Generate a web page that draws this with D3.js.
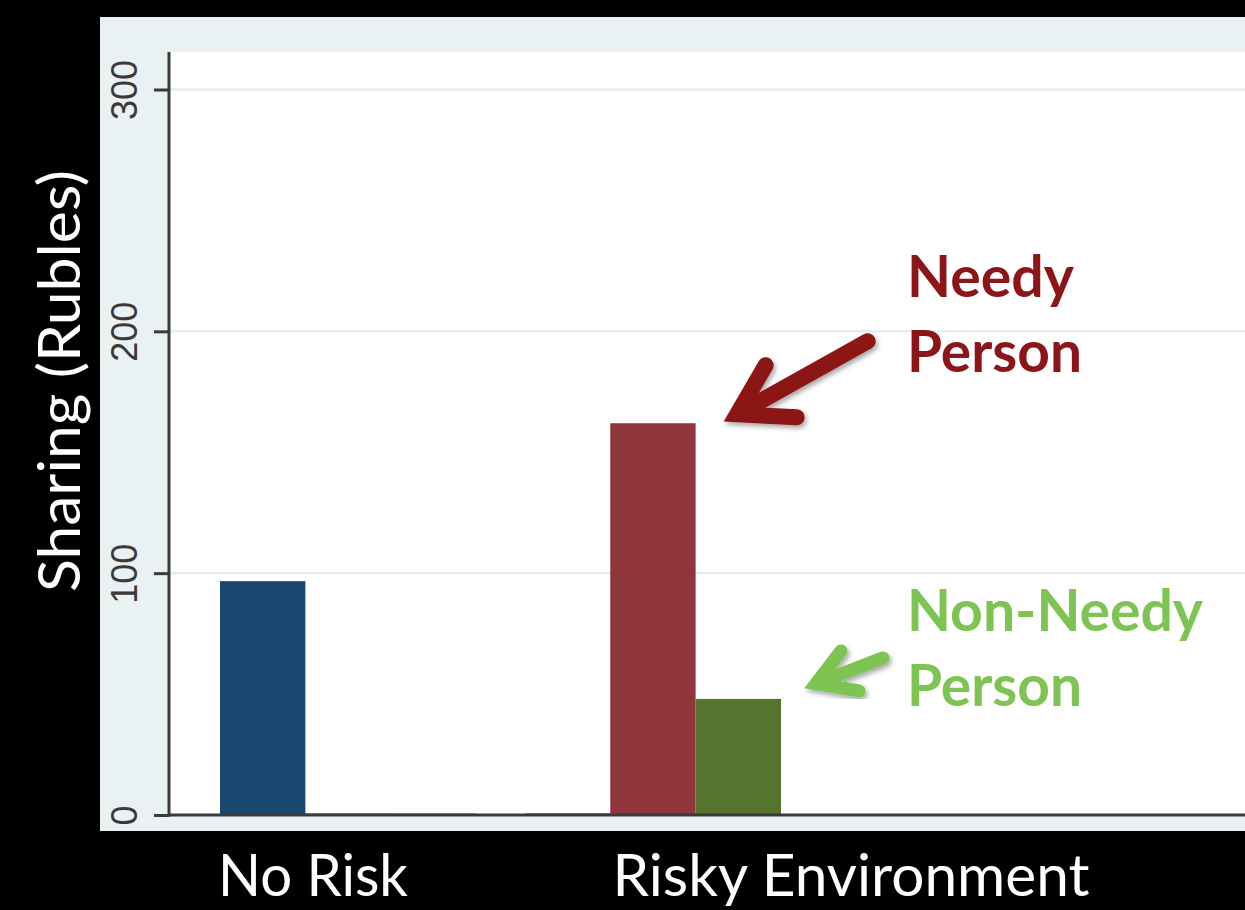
<!DOCTYPE html>
<html>
<head>
<meta charset="utf-8">
<script src="https://cdn.jsdelivr.net/npm/d3@7"></script>
<style>
  html, body { margin: 0; padding: 0; background: #000; }
  svg { display: block; }
</style>
</head>
<body>
<svg id="chart"></svg>
<script>
// Data
const categories = ["No Risk", "Risky Environment"];
const seriesNames = ["Overall", "Needy Person", "Non-Needy Person"];
const overallValues = [96.7, 0];
const needyValues = [0, 162];
const nonNeedyValues = [0, 48];
const yTicks = [0, 100, 200, 300];

const seriesColors = {
    "Overall": "rgb(26,71,111)",
    "Needy Person": "rgb(144,53,59)",
    "Non-Needy Person": "rgb(85,117,47)"
};

const rows = categories.map((c, i) => ({
    category: c,
    values: [
        { key: seriesNames[0], value: overallValues[i] },
        { key: seriesNames[1], value: needyValues[i] },
        { key: seriesNames[2], value: nonNeedyValues[i] }
    ]
}));

const width = 1245;
const height = 910;

const svg = d3.select('#chart')
    .attr('width', width)
    .attr('height', height)
    .style('font-family', 'Lato, "Open Sans", sans-serif');

svg.append('rect')
    .attr('width', width)
    .attr('height', height)
    .attr('fill', '#000');

// Panel and plot region
const panel = { left: 100, top: 17, right: width, bottom: 831 };
const plot = { left: 170, top: 52, right: width, bottom: 815 };

svg.append('rect')
    .attr('x', panel.left)
    .attr('y', panel.top)
    .attr('width', panel.right - panel.left)
    .attr('height', panel.bottom - panel.top)
    .attr('fill', 'rgb(233,241,243)');

svg.append('rect')
    .attr('x', plot.left)
    .attr('y', plot.top)
    .attr('width', plot.right - plot.left)
    .attr('height', plot.bottom - plot.top)
    .attr('fill', '#fff');

// Scales
const y = d3.scaleLinear()
    .domain([0, 300])
    .range([plot.bottom, 89.5]);

const x0 = d3.scaleBand()
    .domain(categories)
    .range([plot.left, plot.left + 661])
    .paddingInner(0.16)
    .paddingOuter(0.164);

const x1 = d3.scaleBand()
    .domain(seriesNames)
    .range([0, x0.bandwidth()])
    .padding(0);

// Gridlines
svg.append('g')
    .selectAll('line')
    .data(yTicks.filter(d => d > 0))
    .join('line')
    .attr('x1', plot.left)
    .attr('x2', plot.right)
    .attr('y1', d => y(d))
    .attr('y2', d => y(d))
    .attr('stroke', 'rgb(228,238,240)')
    .attr('stroke-width', 2.5);

// Bars
const groups = svg.append('g')
    .selectAll('g')
    .data(rows)
    .join('g')
    .attr('transform', d => `translate(${x0(d.category)},0)`);

groups.selectAll('rect')
    .data(d => d.values)
    .join('rect')
    .attr('x', d => x1(d.key))
    .attr('width', x1.bandwidth())
    .attr('y', d => d.value > 0 ? y(d.value) : plot.bottom - 2)
    .attr('height', d => d.value > 0 ? y(0) - y(d.value) : 2)
    .attr('fill', d => seriesColors[d.key])
    .attr('opacity', d => d.value > 0 ? 1 : 0.55);

// Y axis
const yAxis = d3.axisLeft(y)
    .tickValues(yTicks)
    .tickSize(15)
    .tickPadding(0)
    .tickFormat(d3.format('d'));

const axisG = svg.append('g')
    .attr('transform', `translate(${plot.left - 1},0)`)
    .call(yAxis);

axisG.select('.domain').remove();
axisG.selectAll('.tick line')
    .attr('stroke', '#3a3a3a')
    .attr('stroke-width', 3);

// labels sit rotated, reading bottom to top, baseline facing the axis
axisG.selectAll('.tick text')
    .attr('x', 0)
    .attr('y', 0)
    .attr('dy', 0)
    .attr('transform', 'translate(-32,0) rotate(-90)')
    .attr('text-anchor', 'middle')
    .style('font-family', '"Liberation Sans", Arial, sans-serif')
    .style('font-size', '36px')
    .attr('fill', '#3a3a3a');

// axis lines
svg.append('line')
    .attr('x1', plot.left - 1)
    .attr('x2', plot.left - 1)
    .attr('y1', plot.top)
    .attr('y2', plot.bottom + 1.5)
    .attr('stroke', '#3a3a3a')
    .attr('stroke-width', 3);

svg.append('line')
    .attr('x1', plot.left - 1)
    .attr('x2', plot.right)
    .attr('y1', plot.bottom)
    .attr('y2', plot.bottom)
    .attr('stroke', '#3a3a3a')
    .attr('stroke-width', 3);

// Y title
svg.append('text')
    .attr('transform', 'translate(80,381) rotate(-90)')
    .attr('text-anchor', 'middle')
    .attr('fill', '#fff')
    .style('font-size', '58px')
    .attr('textLength', 422)
    .attr('lengthAdjust', 'spacingAndGlyphs')
    .text('Sharing (Rubles)');

// Category labels (kept just inside the bottom edge)
const catWidths = { "No Risk": 190, "Risky Environment": 477 };
const catCenters = { "No Risk": 313, "Risky Environment": 851 };
svg.append('g')
    .selectAll('text')
    .data(categories)
    .join('text')
    .attr('x', d => catCenters[d])
    .attr('y', 896)
    .attr('text-anchor', 'middle')
    .attr('fill', '#fff')
    .style('font-size', '58px')
    .attr('textLength', d => catWidths[d])
    .attr('lengthAdjust', 'spacingAndGlyphs')
    .text(d => d);

// Annotations
const defs = svg.append('defs');
defs.append('filter')
    .attr('id', 'shadow')
    .attr('x', '-20%').attr('y', '-20%')
    .attr('width', '140%').attr('height', '140%')
    .append('feDropShadow')
    .attr('dx', 2).attr('dy', 3)
    .attr('stdDeviation', 2.5)
    .attr('flood-color', '#000')
    .attr('flood-opacity', 0.35);

function drawArrow(tip, tail, barbA, barbB, w, color) {
    const dx = tail[0] - tip[0], dy = tail[1] - tip[1];
    const len = Math.hypot(dx, dy);
    const inset = w * 0.9;
    const c = [tip[0] + dx / len * inset, tip[1] + dy / len * inset];
    const path = d3.path();
    path.moveTo(barbA[0], barbA[1]);
    path.lineTo(c[0], c[1]);
    path.lineTo(barbB[0], barbB[1]);
    path.moveTo(c[0], c[1]);
    path.lineTo(tail[0], tail[1]);
    svg.append('path')
        .attr('d', path.toString())
        .attr('fill', 'none')
        .attr('stroke', color)
        .attr('stroke-width', w)
        .attr('stroke-linecap', 'round')
        .attr('stroke-linejoin', 'miter')
        .attr('stroke-miterlimit', 10)
        .attr('filter', 'url(#shadow)');
}

const needyColor = '#8c1519';
const nonNeedyColor = '#7dc452';

// arrow tips placed next to the bar tops
const needyRight = x0(categories[1]) + x1(seriesNames[1]) + x1.bandwidth();
const nonNeedyRight = x0(categories[1]) + x1(seriesNames[2]) + x1.bandwidth();
const nTip = [needyRight + 29, y(needyValues[1]) - 2];
drawArrow(nTip, [nTip[0] + 143, nTip[1] - 80],
    [nTip[0] + 41, nTip[1] - 56], [nTip[0] + 72, nTip[1] - 4], 16, needyColor);

const gTip = [nonNeedyRight + 24, y(nonNeedyValues[1]) - 11];
drawArrow(gTip, [gTip[0] + 78, gTip[1] - 30],
    [gTip[0] + 36, gTip[1] - 37], [gTip[0] + 54, gTip[1] + 3], 13, nonNeedyColor);

const labels = [
    { text: 'Needy', x: 907, y: 297, w: 167, color: needyColor },
    { text: 'Person', x: 907, y: 372, w: 175, color: needyColor },
    { text: 'Non-Needy', x: 907, y: 631, w: 296, color: nonNeedyColor },
    { text: 'Person', x: 907, y: 706, w: 175, color: nonNeedyColor }
];

svg.append('g')
    .selectAll('text')
    .data(labels)
    .join('text')
    .attr('x', d => d.x)
    .attr('y', d => d.y)
    .attr('fill', d => d.color)
    .style('font-size', '57px')
    .style('font-weight', 700)
    .attr('textLength', d => d.w)
    .attr('lengthAdjust', 'spacingAndGlyphs')
    .text(d => d.text);
</script>
</body>
</html>
